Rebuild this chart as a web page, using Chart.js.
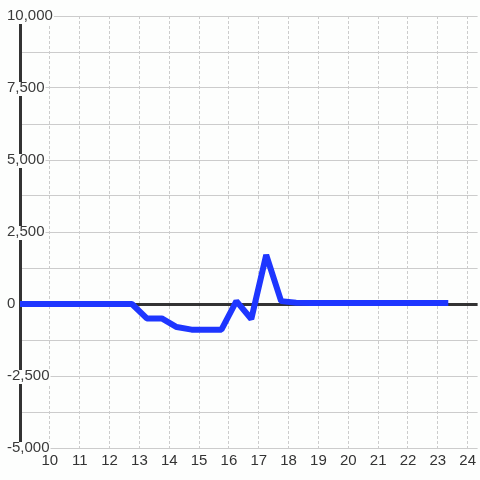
<!DOCTYPE html>
<html>
<head>
<meta charset="utf-8">
<script src="https://cdn.jsdelivr.net/npm/chart.js@4"></script>
<style>
  html, body { margin: 0; padding: 0; background: #fdfefd; }
  canvas { display: block; }
</style>
</head>
<body>
<canvas id="chart" width="480" height="480"></canvas>
<script>
  // x positions (hours) and values of the line
  const hours = [
    8.75, 9.25, 9.75, 10.25, 10.75, 11.25, 11.75, 12.25, 12.75,
    13.25, 13.75, 14.25, 14.75, 15.25, 15.75, 16.25, 16.75, 17.25, 17.75, 18.25,
    18.75, 19.25, 19.75, 20.25, 20.75, 21.25, 21.75, 22.25, 22.75, 23.25
  ];
  const values = [
    0, 0, 0, 0, 0, 0, 0, 0, 0,
    -500, -500, -800, -890, -890, -890, 100, -520, 1700, 100, 40,
    35, 35, 35, 35, 35, 35, 35, 35, 35, 35
  ];
  const xTicks = [9, 10, 11, 12, 13, 14, 15, 16, 17, 18, 19, 20, 21, 22, 23, 24];
  const yTicks = [-5000, -3750, -2500, -1250, 0, 1250, 2500, 3750, 5000, 6250, 7500, 8750, 10000];

  const ink = "#333";
  const gridGray = "#cccccc";
  const paper = "#fdfefd";

  /* -----------------------------
   * Chart
   * ----------------------------- */
  Chart.defaults.font.family = "'Liberation Sans', Arial, sans-serif";
  Chart.defaults.font.size = 15;
  Chart.defaults.color = ink;

  new Chart(document.getElementById("chart"), {
    type: "line",
    data: {
      datasets: [{
        data: hours.map((h, i) => ({ x: h, y: values[i] })),
        borderColor: "#1e36ff",
        borderWidth: 6,
        borderJoinStyle: "bevel",
        borderCapStyle: "square",
        pointRadius: 0,
        tension: 0,
        fill: false,
      }],
    },
    options: {
      responsive: false,
      animation: false,
      devicePixelRatio: 1,
      layout: { padding: { top: 16, left: 0, right: 0, bottom: 0 } },
      plugins: { legend: { display: false }, tooltip: { enabled: false } },
      scales: {
        x: {
          type: "linear",
          min: 9,
          max: 24 + 1 / 3,
          afterBuildTicks: (s) => { s.ticks = xTicks.map((v) => ({ value: v })); },
          afterFit: (s) => { s.height = 32; },
          grid: { color: gridGray, lineWidth: 1, drawTicks: false },
          border: { display: false, dash: [3, 2] },
          ticks: {
            z: 1,
            padding: 4,
            color: ink,
            maxRotation: 0,
            callback: (v) => (v === 9 ? "" : String(v)),
          },
        },
        y: {
          min: -5000,
          max: 10000,
          afterBuildTicks: (s) => { s.ticks = yTicks.map((v) => ({ value: v })); },
          afterFit: (s) => { s.width = 20; },
          grid: {
            drawTicks: false,
            color: (c) => (c.tick && c.tick.value === 0 ? ink : gridGray),
            lineWidth: (c) => (c.tick && c.tick.value === 0 ? 3 : 1),
          },
          border: { display: true, color: ink, width: 3 },
          ticks: {
            mirror: true,
            crossAlign: "near",
            padding: -13,
            color: "#3a3a3a",
            showLabelBackdrop: (c) => c.tick.value % 2500 === 0,
            backdropColor: paper,
            backdropPadding: { top: -3, bottom: -1, left: 1, right: 1 },
            callback: (v) => (v % 2500 === 0 ? v.toLocaleString("en-US") : ""),
          },
        },
      },
    },
  });
</script>
</body>
</html>
